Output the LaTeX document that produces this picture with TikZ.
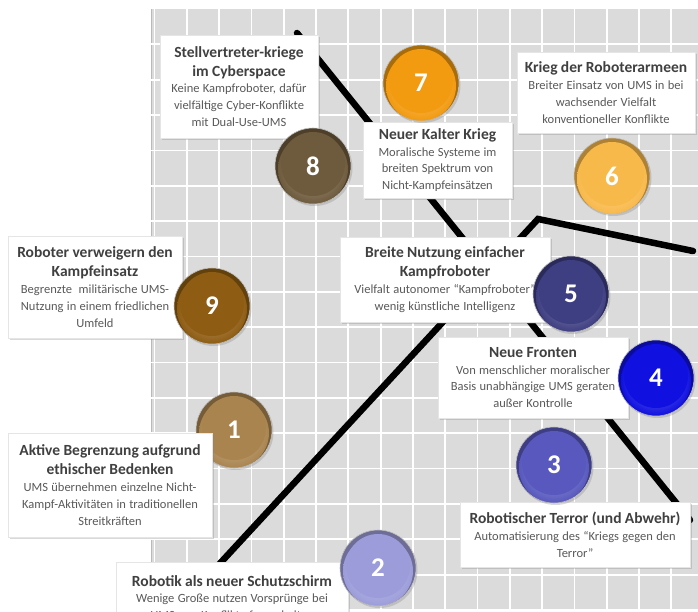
\documentclass[tikz,border=0pt]{standalone}
\usepackage{fontspec}
\setmainfont{Carlito}
\usepackage{tikz}
\usetikzlibrary{shadows}
\definecolor{titlegray}{HTML}{404040}
\definecolor{bodygray}{HTML}{595959}
\definecolor{gridgray}{HTML}{DBDBDB}
\definecolor{ballone}{HTML}{A9844F}
\definecolor{balltwo}{HTML}{9C9CDA}
\definecolor{ballthree}{HTML}{5858BE}
\definecolor{ballfour}{HTML}{1010E0}
\definecolor{ballfive}{HTML}{3E3E82}
\definecolor{ballsix}{HTML}{F8B94B}
\definecolor{ballseven}{HTML}{F29A10}
\definecolor{balleight}{HTML}{6E5A3C}
\definecolor{ballnine}{HTML}{8E5C12}
\newcommand{\ttl}{\fontsize{15.5}{19}\selectfont\bfseries\color{titlegray}}
\newcommand{\bdy}{\fontsize{12.5}{16.8}\selectfont\color{bodygray}}
\pgfdeclarelayer{grid}
\pgfsetlayers{grid,main}

\begin{document}
\begin{tikzpicture}[x=1pt,y=-1pt,
    infobox/.style={fill=white,draw=gray!20,inner sep=0pt,align=center,
      drop shadow={shadow xshift=2pt,shadow yshift=-2pt,opacity=0.3}},
    ball/.style={circle,minimum size=76pt,inner sep=0pt,text=white,
      font=\fontsize{27}{27}\selectfont\bfseries,draw=gray!50,line width=0.6pt,
      drop shadow={shadow xshift=1.5pt,shadow yshift=-2pt,opacity=0.3},
      path picture={
        \fill[#1!70!black] (path picture bounding box.center) circle (38pt);
        \shade[inner color=#1!55!white,outer color=#1]
          ([yshift=-3pt]path picture bounding box.center) circle (35pt);
        \fill[#1] ([yshift=2pt]path picture bounding box.center) circle (32pt);
      }},
    trend/.style={line width=6.5pt,line cap=round,black}]
    \useasboundingbox (0,0) rectangle (698,611);
    \clip (0,0) rectangle (698,611);

    % grid
    \begin{pgfonlayer}{grid}
      \fill[gridgray] (151,9) rectangle (698,611);
      \draw[gray!55,line width=1pt] (151.5,9) -- (151.5,611);
      \foreach \i in {0,...,16}
        \draw[white,line width=1.8pt] ({154.5+32.3*\i},9) -- ({154.5+32.3*\i},611);
      \foreach \j in {1,...,17}
        \draw[white,line width=1.8pt] (151,{9+35.35*\j}) -- (698,{9+35.35*\j});
    \end{pgfonlayer}

    \coordinate (a1) at (297,33);
    \coordinate (a2) at (690,520);
    \coordinate (b1) at (200,585);
    \coordinate (b2) at (538,219);
    \coordinate (b3) at (693,251);

    \node[ball=ballone] (n1) at (234,430) {1};

    \node[infobox,text width=158pt,minimum height=103pt] (t8) at (239,86.5)
      {{\ttl Stellvertreter-kriege\\ im Cyberspace\par}
       {\bdy Keine Kampfroboter, dafür\\ vielfältige Cyber-Konflikte\\ mit Dual-Use-UMS\par}};
    \node[infobox,text width=149pt,minimum height=76pt] (t7) at (437.5,160)
      {{\ttl Neuer Kalter Krieg\par}
       {\bdy Moralische Systeme im\\ breiten Spektrum von\\ Nicht-Kampfeinsätzen\par}};
    \node[infobox,text width=178pt,minimum height=81pt] (t6) at (606,92.5)
      {{\ttl Krieg der Roboterarmeen\par}
       {\bdy Breiter Einsatz von UMS in bei\\ wachsender Vielfalt\\ konventioneller Konflikte\par}};
    \node[infobox,text width=174pt,minimum height=102pt] (t9) at (95,287)
      {{\ttl Roboter verweigern den\\ Kampfeinsatz\par}
       {\bdy Begrenzte~ militärische UMS-\\ Nutzung in einem friedlichen\\ Umfeld\par}};
    \node[infobox,text width=210pt,minimum height=85pt] (t5) at (445,279.5)
      {{\ttl Breite Nutzung einfacher\\ Kampfroboter\par}
       {\bdy Vielfalt autonomer “Kampfroboter”\\ wenig künstliche Intelligenz\par}};
    \node[infobox,text width=190pt,minimum height=81pt] (t4) at (533,377.5)
      {{\ttl Neue Fronten\par}
       {\bdy Von menschlicher moralischer\\ Basis unabhängige UMS geraten\\ außer Kontrolle\par}};
    \node[infobox,text width=204pt,minimum height=104pt] (t1) at (110,485)
      {{\ttl Aktive Begrenzung aufgrund\\ ethischer Bedenken\par}
       {\bdy UMS übernehmen einzelne Nicht-\\ Kampf-Aktivitäten in traditionellen\\ Streitkräften\par}};
    \node[infobox,text width=230pt,minimum height=65pt] (t3) at (575,534.5)
      {{\ttl Robotischer Terror (und Abwehr)\par}
       {\bdy Automatisierung des “Kriegs gegen den\\ Terror”\par}};
    \node[infobox,text width=232pt,minimum height=72pt,anchor=north] (t2) at (232,562)
      {{\ttl Robotik als neuer Schutzschirm\par}
       {\bdy Wenige Große nutzen Vorsprünge bei\\ UMS, um Konflikte fernzuhalten\par}};

    \node[ball=balleight] (n8) at (313,166) {8};
    \node[ball=ballseven] (n7) at (421,83) {7};
    \node[ball=ballsix] (n6) at (612,176) {6};
    \node[ball=ballnine] (n9) at (212,306) {9};
    \node[ball=ballfive] (n5) at (571,294) {5};
    \node[ball=ballfour] (n4) at (656,378) {4};
    \node[ball=ballthree] (n3) at (554,465) {3};
    \node[ball=balltwo] (n2) at (378,568) {2};

    % trend lines
    \begin{pgfonlayer}{grid}
      \draw[trend] (a1) -- (a2);
      \draw[trend] (b1) -- (b2) -- (b3);
    \end{pgfonlayer}
\end{tikzpicture}
\end{document}
